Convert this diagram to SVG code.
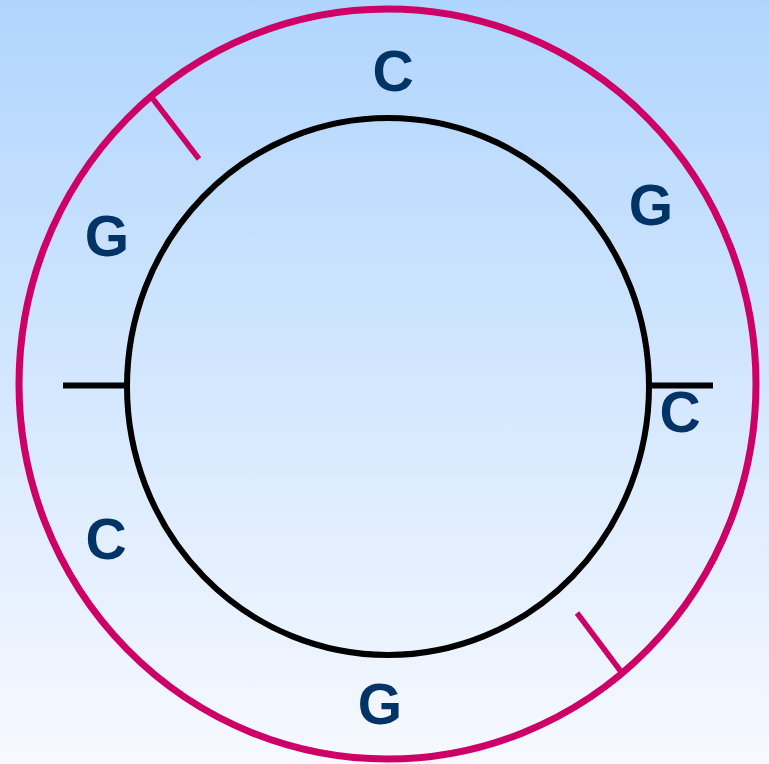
<svg xmlns="http://www.w3.org/2000/svg" width="769" height="764" viewBox="0 0 769 764">
  <defs>
    <linearGradient id="bg" x1="0" y1="0" x2="0" y2="1">
      <stop offset="0" stop-color="#b0d5fd"/>
      <stop offset="1" stop-color="#f7f9ff"/>
    </linearGradient>
  </defs>
  <style>
    .lbl { font-family: "Liberation Sans", Arial, sans-serif; font-weight: bold; font-size: 57px; fill: #003366; text-anchor: middle; }
    .mag { fill: none; stroke: #cc0066; }
    .blk { fill: none; stroke: #000000; }
  </style>
  <rect x="0" y="0" width="769" height="764" fill="url(#bg)"/>
  <g id="outer-ring">
    <ellipse class="mag" cx="387.5" cy="384" rx="368.5" ry="375" stroke-width="7"/>
  </g>
  <g id="inner-ring">
    <ellipse class="blk" cx="388" cy="386.5" rx="261" ry="268.5" stroke-width="6"/>
  </g>
  <g id="connectors">
    <line class="blk" x1="63" y1="385.5" x2="127" y2="385.5" stroke-width="6"/>
    <line class="blk" x1="649" y1="385.5" x2="713" y2="385.5" stroke-width="6"/>
    <line class="mag" x1="153" y1="99" x2="199" y2="159" stroke-width="5.5"/>
    <line class="mag" x1="577" y1="613" x2="622" y2="673" stroke-width="5.5"/>
  </g>
  <g id="label-top-c"><text class="lbl" x="393" y="91">C</text></g>
  <g id="label-tr-g"><text class="lbl" x="651" y="225">G</text></g>
  <g id="label-tl-g"><text class="lbl" x="107" y="256">G</text></g>
  <g id="label-r-c"><text class="lbl" x="680" y="432">C</text></g>
  <g id="label-l-c"><text class="lbl" x="106" y="559">C</text></g>
  <g id="label-bottom-g"><text class="lbl" x="380" y="724">G</text></g>
</svg>
